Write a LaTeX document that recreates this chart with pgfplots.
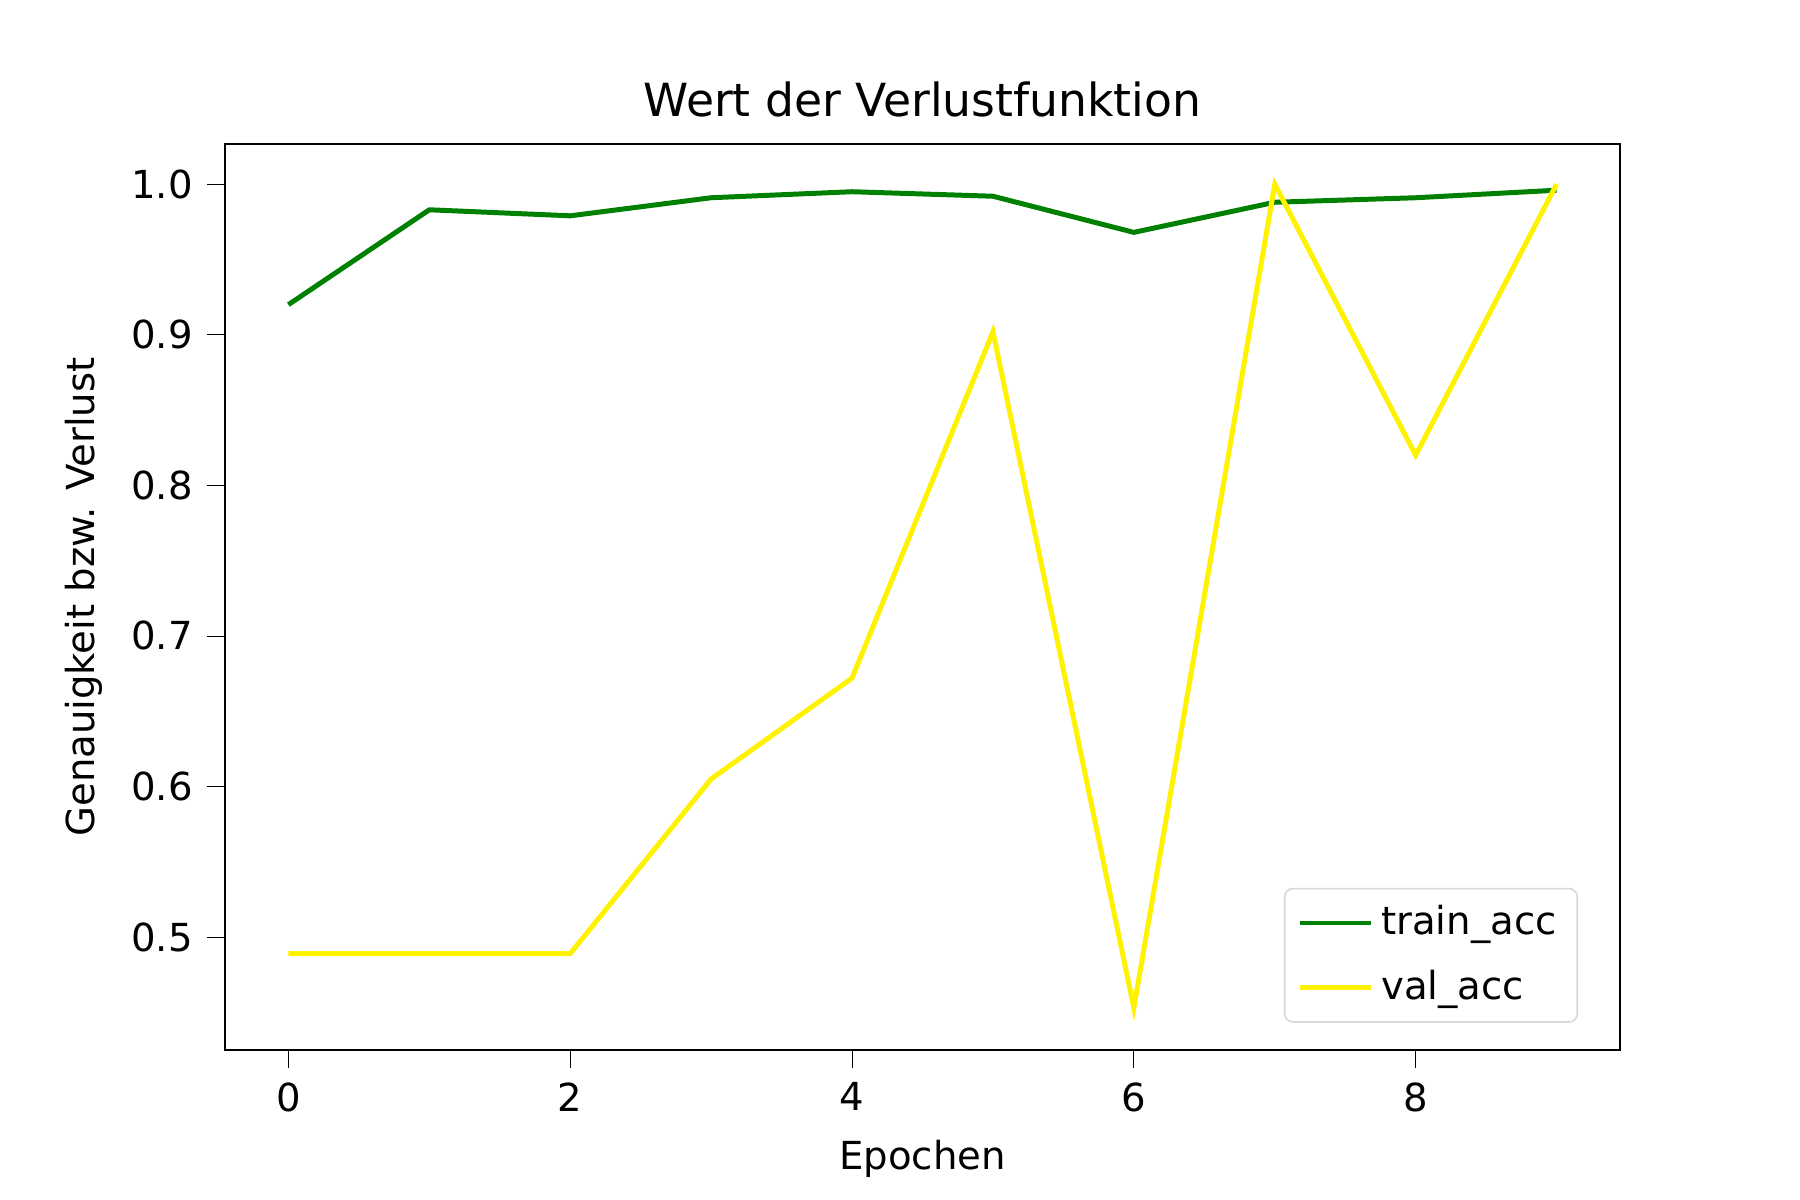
\documentclass[border=0pt]{standalone}
\usepackage{fontspec}
\setmainfont{DejaVu Sans}
\usepackage{pgfplots}
\pgfplotsset{compat=1.18}
\begin{document}
\begin{tikzpicture}
\path[use as bounding box] (-0.75in,-0.5in) rectangle (5.25in,3.5in);
\begin{axis}[at={(0,0)},anchor=south west,scale only axis,width=4.65in,height=3.02in,
 xmin=-0.45,xmax=9.45,ymin=0.425,ymax=1.0267,
 xtick={0,2,4,6,8},ytick={0.5,0.6,0.7,0.8,0.9,1.0},
 yticklabel style={/pgf/number format/.cd,fixed,fixed zerofill,precision=1},
 /pgf/number format/assume math mode=true,
 tick align=outside,tick style={black},
 xtick pos=bottom,ytick pos=left,
 font=\fontsize{9.3}{11}\selectfont,
 title={\fontsize{11}{13}\selectfont Wert der Verlustfunktion},
 title style={yshift=-3pt},
 xlabel={Epochen},ylabel={Genauigkeit bzw. Verlust},
 legend pos=south east,
 legend style={draw=black!15,rounded corners=2pt,font=\fontsize{9.3}{11}\selectfont,row sep=3pt},
 legend cell align=left]
\addplot[green!50!black,line width=1.2pt] coordinates {(0,0.920)(1,0.983)(2,0.979)(3,0.991)(4,0.995)(5,0.992)(6,0.968)(7,0.988)(8,0.991)(9,0.996)};
\addlegendentry{train\_acc}
\addplot[yellow,line width=1.2pt] coordinates {(0,0.489)(1,0.489)(2,0.489)(3,0.605)(4,0.672)(5,0.902)(6,0.453)(7,1.0)(8,0.820)(9,1.0)};
\addlegendentry{val\_acc}
\end{axis}
\end{tikzpicture}
\end{document}
